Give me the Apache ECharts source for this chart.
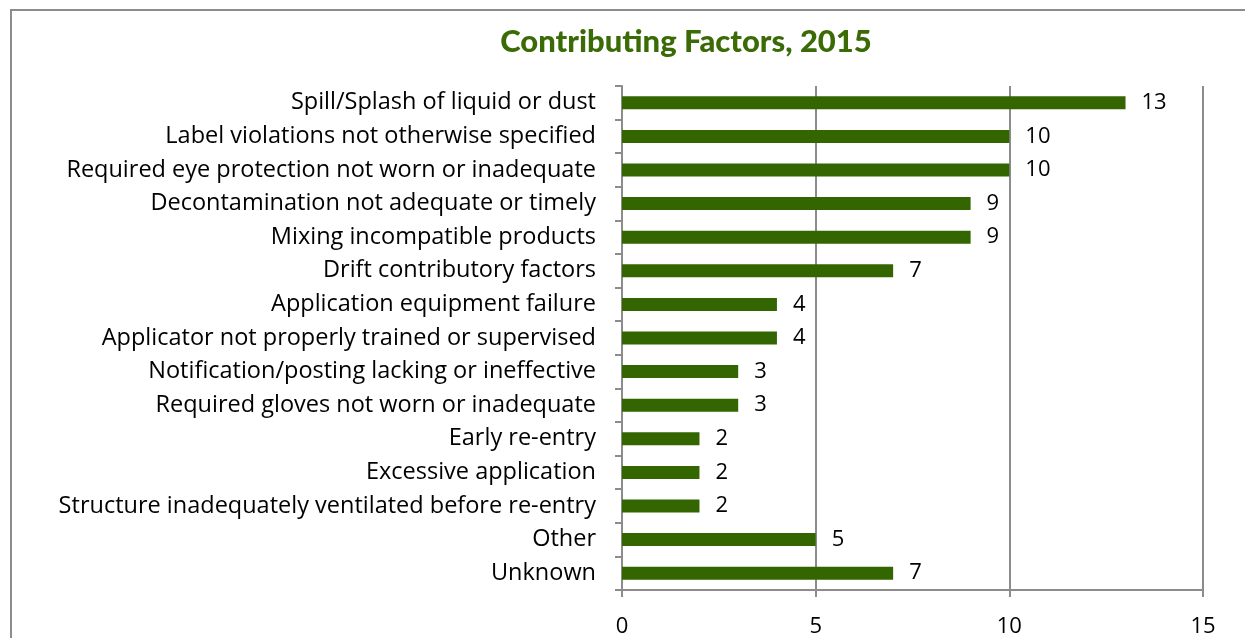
<!DOCTYPE html>
<html>
<head>
<meta charset="utf-8">
<script src="https://cdn.jsdelivr.net/npm/echarts@6/dist/echarts.min.js"></script>
<style>
  html, body { margin: 0; padding: 0; background: #fff; }
  #frame { position: absolute; left: 10px; top: 9px; width: 1250px; height: 650px;
           border-left: 2px solid #8c8c8c; border-top: 2px solid #8c8c8c; box-sizing: border-box; }
  #chart { position: absolute; left: 0; top: 0; width: 1245px; height: 638px; }
</style>
</head>
<body>
<div id="frame"></div>
<div id="chart"></div>
<script>
  // categories top to bottom
  const factors = [
    'Spill/Splash of liquid or dust',
    'Label violations not otherwise specified',
    'Required eye protection not worn or inadequate',
    'Decontamination not adequate or timely',
    'Mixing incompatible products',
    'Drift contributory factors',
    'Application equipment failure',
    'Applicator not properly trained or supervised',
    'Notification/posting lacking or ineffective',
    'Required gloves not worn or inadequate',
    'Early re-entry',
    'Excessive application',
    'Structure inadequately ventilated before re-entry',
    'Other',
    'Unknown'
  ]
  const counts = [13, 10, 10, 9, 9, 7, 4, 4, 3, 3, 2, 2, 2, 5, 7]
  const xTicks = [0, 5, 10, 15]

  const chart = echarts.init(document.getElementById('chart'))
  const option = {
    animation: false,
    title: {
      text: 'Contributing Factors, 2015',
      left: 681,
      top: 21,
      textAlign: 'center',
      textStyle: {
        fontFamily: 'Lato',
        fontWeight: 900,
        fontSize: 31,
        color: '#3a6b06'
      }
    },
    grid: {
      left: 622,
      right: 42,
      top: 86,
      bottom: 48,
      containLabel: false
    },
    xAxis: {
      type: 'value',
      min: xTicks[0],
      max: xTicks[xTicks.length - 1],
      interval: 5,
      axisLine: { show: true, lineStyle: { color: '#8c8c8c', width: 2 } },
      axisTick: { show: true, length: 7, lineStyle: { color: '#8c8c8c', width: 2 } },
      axisLabel: { color: '#000', fontFamily: 'Open Sans', fontSize: 22, margin: 26 },
      splitLine: { show: true, lineStyle: { color: '#8c8c8c', width: 2 } }
    },
    yAxis: {
      type: 'category',
      data: factors,
      inverse: true,
      axisLine: { show: true, lineStyle: { color: '#8c8c8c', width: 2 } },
      axisTick: { show: true, length: 7, lineStyle: { color: '#8c8c8c', width: 2 } },
      axisLabel: { color: '#000', fontFamily: 'Open Sans', fontSize: 23.5, margin: 26 },
      splitLine: { show: false }
    },
    series: [{
      type: 'bar',
      data: counts,
      barWidth: 13,
      itemStyle: {
        color: '#336600'
      },
      label: {
        show: true,
        position: 'right',
        distance: 16,
        color: '#000',
        fontFamily: 'Open Sans',
        fontSize: 22
      }
    }]
  }
  chart.setOption(option)
</script>
</body>
</html>
